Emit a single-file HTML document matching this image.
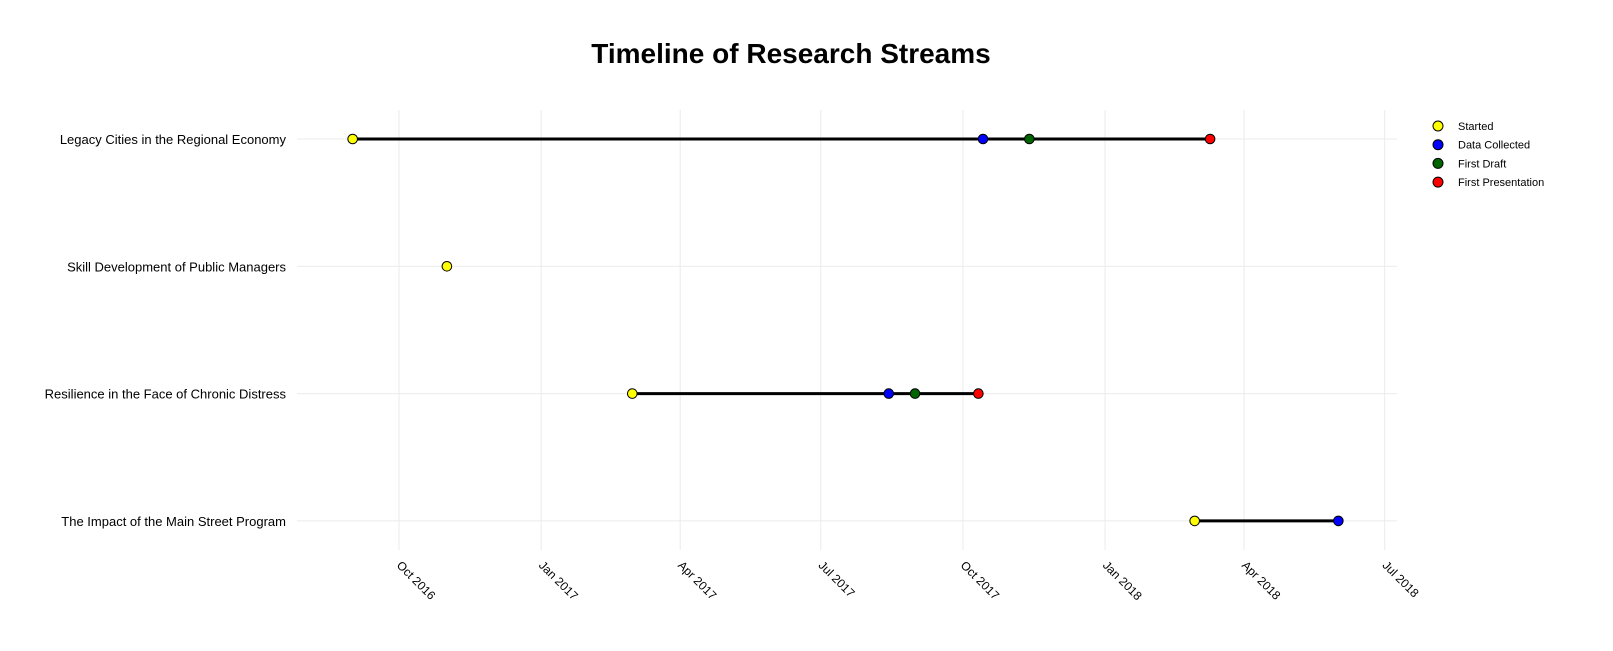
<!DOCTYPE html>
<html><head><meta charset="utf-8"><style>
body{margin:0;background:#fff;}
svg{display:block;font-family:"Liberation Sans",sans-serif;}
</style></head><body>
<svg id="chart" width="1613" height="651">
<text x="791" y="63" text-anchor="middle" font-size="28" font-weight="bold" fill="#000">Timeline of Research Streams</text>
<g id="grid"></g><g id="ylab"></g><g id="xlab"></g><g id="marks"></g>
<g id="legend"></g>
</svg>
<script>
const streams=["Legacy Cities in the Regional Economy","Skill Development of Public Managers","Resilience in the Face of Chronic Distress","The Impact of the Main Street Program"];
const started=["2016-09-01","2016-11-01","2017-03-01","2018-02-28"];
const dataCollected=["2017-10-14",null,"2017-08-14","2018-06-01"];
const firstDraft=["2017-11-13",null,"2017-08-31",null];
const firstPresentation=["2018-03-10",null,"2017-10-11",null];
const tickDates=["2016-10-01","2017-01-01","2017-04-01","2017-07-01","2017-10-01","2018-01-01","2018-04-01","2018-07-01"];
const tickLabels=["Oct 2016","Jan 2017","Apr 2017","Jul 2017","Oct 2017","Jan 2018","Apr 2018","Jul 2018"];
const seriesNames=["Started","Data Collected","First Draft","First Presentation"];
const seriesColors=["#ffff00","#0000ff","#006400","#ff0000"];

const NS="http://www.w3.org/2000/svg";
const t0=Date.parse("2016-10-01"),px0=399,pxPerDay=1.545;
function x(d){return px0+(Date.parse(d)-t0)/86400000*pxPerDay;}
function y(i){return 139+i*127.3;}
function mk(tag,attrs,parent){const e=document.createElementNS(NS,tag);for(const k in attrs)e.setAttribute(k,attrs[k]);parent.appendChild(e);return e;}
const grid=document.getElementById('grid'),ylab=document.getElementById('ylab'),xlab=document.getElementById('xlab'),marks=document.getElementById('marks'),legend=document.getElementById('legend');
tickDates.forEach((d,i)=>{
  const l=mk('line',{x1:x(d),x2:x(d),y1:110,y2:550,stroke:'#ebebeb','stroke-width':1},grid);
  
  
  const t=mk('text',{x:x(d)-3,y:566,'font-size':12,fill:'#000',transform:`rotate(45 ${x(d)-3} 566)`},xlab);
  t.textContent=tickLabels[i];
  
  
});
streams.forEach((s,i)=>{
  const l=mk('line',{x1:297,x2:1397,y1:y(i),y2:y(i),stroke:'#ebebeb','stroke-width':1},grid);
  
  
  const t=mk('text',{x:286,y:y(i)+5,'font-size':13,'text-anchor':'end',fill:'#000'},ylab);
  t.textContent=s;
  
  
  const all=[started[i],dataCollected[i],firstDraft[i],firstPresentation[i]].filter(v=>v);
  const xs=all.map(x);
  if(xs.length>1){
    const seg=mk('line',{x1:Math.min(...xs),x2:Math.max(...xs),y1:y(i),y2:y(i),stroke:'#000','stroke-width':3},marks);
    
    
  }
});
[started,dataCollected,firstDraft,firstPresentation].forEach((arr,si)=>{
  arr.forEach((d,i)=>{
    if(!d)return;
    const c=mk('circle',{cx:x(d),cy:y(i),r:4.8,fill:seriesColors[si],stroke:'#000','stroke-width':1},marks);
    
    
  });
});
seriesNames.forEach((n,i)=>{
  const c=mk('circle',{cx:1438,cy:126+i*18.7,r:5,fill:seriesColors[i],stroke:'#000','stroke-width':1},legend);
  
  
  const t=mk('text',{x:1458,y:130+i*18.7,'font-size':11,fill:'#000'},legend);
  t.textContent=n;
  
  
});
</script>
</body></html>
